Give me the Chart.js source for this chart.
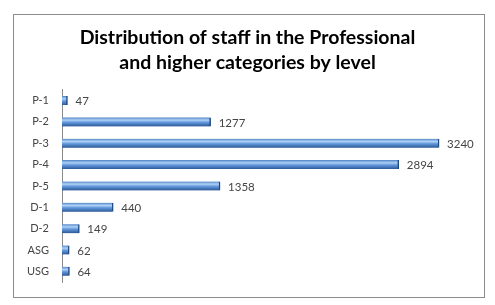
<!DOCTYPE html>
<html>
<head>
<meta charset="utf-8">
<script src="https://cdn.jsdelivr.net/npm/chart.js@4/dist/chart.umd.min.js"></script>
<style>
  body { margin: 0; background: #fff; }
  #wrap { position: relative; width: 495px; height: 305px; }
  #frame { position: absolute; left: 13px; top: 14px; width: 470px; height: 282px; border: 1px solid #8c8c8c; }
  canvas { position: absolute; left: 0; top: 0; }
</style>
</head>
<body>
<div id="wrap">
  <div id="frame"></div>
  <canvas id="myChart" width="495" height="305"></canvas>
</div>
<script>
const levels = ['P-1', 'P-2', 'P-3', 'P-4', 'P-5', 'D-1', 'D-2', 'ASG', 'USG'];
const staff = [47, 1277, 3240, 2894, 1358, 440, 149, 62, 64];
const titleLines = ['Distribution of staff in the Professional', 'and higher categories by level'];

// bar fill like the old 3D cylinder look
function barFill(context) {
  const chart = context.chart;
  if (!chart.chartArea || !chart.scales.y) return '#4f81bd';
  const y = chart.scales.y.getPixelForValue(context.dataIndex);
  const g = chart.ctx.createLinearGradient(0, y - 4.5, 0, y + 4.5);
  g.addColorStop(0, '#5185c8');
  g.addColorStop(0.3, '#b0d1f5');
  g.addColorStop(0.55, '#6397dc');
  g.addColorStop(1, '#2a5896');
  return g;
}

// numbers after each bar
const valueLabels = {
  id: 'valueLabels',
  afterDatasetsDraw(chart) {
    const ctx = chart.ctx;
    const meta = chart.getDatasetMeta(0);
    ctx.save();
    ctx.font = '11.5px Lato';
    ctx.fillStyle = '#454545';
    ctx.textBaseline = 'middle';
    meta.data.forEach((bar, i) => {
      ctx.fillText(String(staff[i]), bar.x + 8, bar.y + 1);
    });
    ctx.restore();
  }
};

let ctx = document.getElementById('myChart').getContext('2d');
let chart = new Chart(ctx, {
  type: 'bar',
  data: {
    labels: levels,
    datasets: [{
      data: staff,
      backgroundColor: barFill,
      borderColor: '#1f4a80',
      borderWidth: { right: 1.5 },
      borderSkipped: 'start',
      barThickness: 9
    }]
  },
  options: {
    indexAxis: 'y',
    responsive: false,
    animation: false,
    layout: { padding: { left: 14, right: 14, top: 0, bottom: 23 } },
    plugins: {
      legend: { display: false },
      tooltip: { enabled: false },
      title: {
        display: true,
        text: titleLines,
        color: '#000',
        font: { family: 'Lato', size: 19.5, weight: 'bold', lineHeight: 1.28 },
        padding: { top: 25, bottom: 15 }
      }
    },
    scales: {
      x: {
        display: false,
        min: 0,
        max: 3600
      },
      y: {
        afterFit(scale) { scale.width = 48; },
        grid: { display: false, drawTicks: false },
        border: { display: true, color: '#8a8a8a', width: 1 },
        ticks: {
          color: '#454545',
          padding: 13,
          font: { family: 'Lato', size: 11 }
        }
      }
    }
  },
  plugins: [valueLabels]
});
</script>
</body>
</html>
